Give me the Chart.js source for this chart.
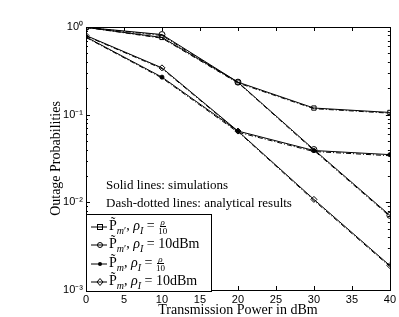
<!DOCTYPE html>
<html>
<head>
<meta charset="utf-8">
<script src="https://cdn.jsdelivr.net/npm/chart.js@4/dist/chart.umd.min.js"></script>
<style>
  body { margin: 0; background: #fff; }
  #wrap { position: relative; width: 399px; height: 317px; }
  #wrap canvas { position: absolute; left: 0; top: 0; }
  .note { position: absolute; font-family: "Liberation Serif", serif; font-size: 13px; color: #000; white-space: nowrap; }
  #legend { position: absolute; background: #fff; border: 1px solid #000; font-family: "Liberation Serif", serif; font-size: 14px; }
  #legend .row { position: absolute; left: 2px; height: 18px; display: flex; align-items: center; white-space: nowrap; }
  #legend svg { margin-right: 2px; }
  .frac { display: inline-flex; flex-direction: column; align-items: center; font-size: 9px; line-height: 8px; vertical-align: middle; }
  .frac .num { border-bottom: 1px solid #000; padding: 0 1px; font-style: italic; }
  sub { font-size: 10px; }
</style>
</head>
<body>
<div id="wrap">
  <canvas id="chart" width="399" height="317"></canvas>
  <div class="note" style="left:106px; top:177px;">Solid lines: simulations</div>
  <div class="note" style="left:106px; top:195px;">Dash-dotted lines: analytical results</div>
  <div id="legend"></div>
</div>
<script>
var power = [0, 10, 20, 30, 40];

var simSquare = [0.99, 0.76, 0.235, 0.119, 0.106];
var anaSquare = [0.99, 0.745, 0.23, 0.117, 0.104];
var simCircle = [0.99, 0.82, 0.235, 0.040, 0.0071];
var anaCircle = [0.99, 0.80, 0.232, 0.039, 0.0069];
var simStar = [0.77, 0.268, 0.065, 0.039, 0.035];
var anaStar = [0.76, 0.262, 0.063, 0.038, 0.034];
var simDiamond = [0.80, 0.342, 0.065, 0.0108, 0.0019];
var anaDiamond = [0.79, 0.335, 0.064, 0.0105, 0.00185];

var yTicks = [0.001, 0.01, 0.1, 1];
var yTickLabels = ['10\u207B\u00B3', '10\u207B\u00B2', '10\u207B\u00B9', '10\u2070'];

var legendRows = [
    { style: 'rect', fill: false, html: 'P\u0303<sub><i>m</i>\u2032</sub>, <i>\u03C1</i><sub><i>I</i></sub> = <span class="frac"><span class="num">\u03C1</span><span>10</span></span>' },
    { style: 'circle', fill: false, html: 'P\u0303<sub><i>m</i>\u2032</sub>, <i>\u03C1</i><sub><i>I</i></sub> = 10dBm' },
    { style: 'circle', fill: true, html: 'P\u0303<sub><i>m</i></sub>, <i>\u03C1</i><sub><i>I</i></sub> = <span class="frac"><span class="num">\u03C1</span><span>10</span></span>' },
    { style: 'rectRot', fill: false, html: 'P\u0303<sub><i>m</i></sub>, <i>\u03C1</i><sub><i>I</i></sub> = 10dBm' }
];

function toPoints(ys) {
    return ys.map(function(v, i) { return { x: power[i], y: v }; });
}

function sim(ys, style, filled) {
    return {
        data: toPoints(ys),
        borderColor: '#000',
        borderWidth: 1,
        pointStyle: style,
        pointRadius: filled ? 2 : 3,
        pointBorderColor: '#000',
        pointBackgroundColor: filled ? '#000' : 'rgba(0,0,0,0)',
        pointBorderWidth: 1,
        fill: false
    };
}

function ana(ys) {
    return {
        data: toPoints(ys),
        borderColor: '#000',
        borderWidth: 1,
        borderDash: [5, 2, 1, 2],
        pointRadius: 0,
        fill: false
    };
}

// inward tick marks on all four sides, plus the frame
var frameTicks = {
    id: 'frameTicks',
    afterDatasetsDraw: function(chart) {
        var ctx = chart.ctx, a = chart.chartArea;
        var xs = chart.scales.x, ys = chart.scales.y;
        ctx.save();
        ctx.strokeStyle = '#000';
        ctx.lineWidth = 1;
        ctx.beginPath();
        for (var v = 0; v <= 40; v += 5) {
            var px = Math.round(xs.getPixelForValue(v)) + 0.5;
            ctx.moveTo(px, a.bottom); ctx.lineTo(px, a.bottom - 4);
            ctx.moveTo(px, a.top); ctx.lineTo(px, a.top + 4);
        }
        for (var e = -3; e <= 0; e++) {
            for (var k = 1; k <= 9; k++) {
                var val = k * Math.pow(10, e);
                if (val > 1) break;
                var py = Math.round(ys.getPixelForValue(val)) + 0.5;
                var len = k === 1 ? 4 : 2;
                ctx.moveTo(a.left, py); ctx.lineTo(a.left + len, py);
                ctx.moveTo(a.right, py); ctx.lineTo(a.right - len, py);
            }
        }
        ctx.stroke();
        ctx.strokeRect(Math.round(a.left) + 0.5, Math.round(a.top) + 0.5,
            Math.round(a.right - a.left), Math.round(a.bottom - a.top));
        ctx.restore();
    }
};

var ctx = document.getElementById('chart');
var chart = new Chart(ctx, {
    type: 'line',
    data: {
        datasets: [
            sim(simSquare, 'rect', false), ana(anaSquare),
            sim(simCircle, 'circle', false), ana(anaCircle),
            sim(simStar, 'circle', true), ana(anaStar),
            sim(simDiamond, 'rectRot', false), ana(anaDiamond)
        ]
    },
    options: {
        responsive: false,
        animation: false,
        layout: { padding: { left: 48, top: 27, right: 9, bottom: 0 } },
        plugins: { legend: { display: false }, tooltip: { enabled: false } },
        scales: {
            x: {
                type: 'linear',
                min: 0,
                max: 40,
                ticks: { stepSize: 5, color: '#000', padding: 3, maxRotation: 0,
                         font: { family: 'Liberation Sans', size: 11 } },
                grid: { display: false, drawTicks: false, tickLength: 0 },
                border: { display: false },
                title: { display: true, text: 'Transmission Power in dBm', color: '#000',
                         padding: { top: 0, bottom: 0 },
                         font: { family: 'Liberation Serif', size: 14, lineHeight: 1 } },
                afterFit: function(s) { s.height = 27; }
            },
            y: {
                type: 'logarithmic',
                min: 0.001,
                max: 1,
                afterBuildTicks: function(s) {
                    s.ticks = yTicks.map(function(v) { return { value: v, major: true }; });
                },
                ticks: {
                    color: '#000', padding: 3,
                    font: { family: 'Liberation Sans', size: 11 },
                    callback: function(value) {
                        var i = yTicks.indexOf(value);
                        return i >= 0 ? yTickLabels[i] : '';
                    }
                },
                grid: { display: false, drawTicks: false, tickLength: 0 },
                border: { display: false },
                title: { display: true, text: 'Outage Probabilities', color: '#000',
                         padding: { top: 0, bottom: 2 },
                         font: { family: 'Liberation Serif', size: 14 } },
                afterFit: function(s) { s.width = 38; }
            }
        }
    },
    plugins: [frameTicks]
});

// legend box in the lower left corner of the plot
var area = chart.chartArea;
var leg = document.getElementById('legend');
var legTop = 214;
leg.style.left = Math.round(area.left) + 'px';
leg.style.top = legTop + 'px';
leg.style.width = '124px';
leg.style.height = (Math.round(area.bottom) - legTop) + 'px';
legendRows.forEach(function(r, i) {
    var row = document.createElement('div');
    row.className = 'row';
    row.style.top = (3 + i * 18.3) + 'px';
    var mark = '';
    if (r.style === 'rect') mark = '<rect x="8.5" y="3.5" width="5" height="5" fill="none" stroke="#000"/>';
    if (r.style === 'circle' && !r.fill) mark = '<circle cx="11" cy="6" r="2.5" fill="none" stroke="#000"/>';
    if (r.style === 'circle' && r.fill) mark = '<circle cx="11" cy="6" r="2" fill="#000"/>';
    if (r.style === 'rectRot') mark = '<polygon points="11,2.5 14,6 11,9.5 8,6" fill="none" stroke="#000"/>';
    row.innerHTML = '<svg width="18" height="12"><line x1="2" y1="6" x2="18" y2="6" stroke="#000"/>' + mark + '</svg><span>' + r.html + '</span>';
    leg.appendChild(row);
});
</script>
</body>
</html>
